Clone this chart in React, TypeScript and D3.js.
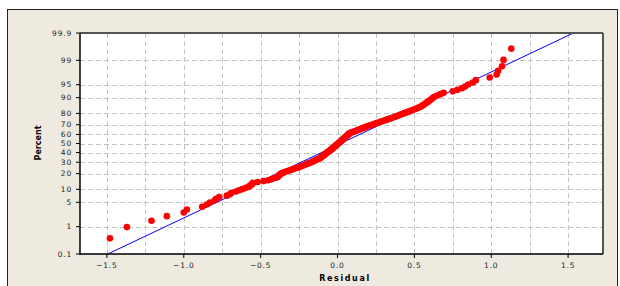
import React from "react";
import * as d3 from "d3";

// sorted residuals, one per point
const residuals = [
  -1.48, -1.37, -1.21, -1.11, -1.0, -0.98, -0.88, -0.85, -0.83, -0.8,
  -0.79, -0.77, -0.72, -0.7, -0.69, -0.66, -0.64, -0.62, -0.6, -0.58,
  -0.57, -0.56, -0.555, -0.55, -0.52, -0.48, -0.45, -0.43, -0.42, -0.4,
  -0.39, -0.385, -0.38, -0.375, -0.37, -0.36, -0.35, -0.34, -0.325, -0.31,
  -0.3, -0.29, -0.275, -0.26, -0.25, -0.24, -0.23, -0.22, -0.21, -0.2,
  -0.19, -0.18, -0.17, -0.16, -0.155, -0.148, -0.14, -0.132, -0.123, -0.114,
  -0.11, -0.105, -0.1, -0.096, -0.092, -0.087, -0.083, -0.078, -0.074, -0.07,
  -0.065, -0.061, -0.056, -0.052, -0.048, -0.043, -0.039, -0.034, -0.03, -0.026,
  -0.022, -0.019, -0.015, -0.011, -0.007, -0.003, 0.0, 0.004, 0.008, 0.012,
  0.016, 0.02, 0.023, 0.027, 0.031, 0.035, 0.039, 0.042, 0.046, 0.05,
  0.054, 0.058, 0.061, 0.065, 0.069, 0.073, 0.076, 0.08, 0.089, 0.098,
  0.108, 0.117, 0.126, 0.135, 0.144, 0.153, 0.163, 0.172, 0.181, 0.19,
  0.2, 0.21, 0.225, 0.235, 0.245, 0.255, 0.27, 0.28, 0.292, 0.304,
  0.316, 0.328, 0.34, 0.352, 0.364, 0.376, 0.388, 0.4, 0.41, 0.423,
  0.436, 0.449, 0.462, 0.475, 0.488, 0.501, 0.514, 0.527, 0.54, 0.549,
  0.558, 0.567, 0.576, 0.585, 0.594, 0.603, 0.612, 0.621, 0.63, 0.65,
  0.67, 0.69, 0.75, 0.78, 0.81, 0.83, 0.85, 0.88, 0.9, 0.99,
  1.035, 1.045, 1.07, 1.08, 1.13,
];

const percentTicks = [0.1, 1, 5, 10, 20, 30, 40, 50, 60, 70, 80, 90, 95, 99, 99.9];
const residualTicks = [-1.5, -1.0, -0.5, 0.0, 0.5, 1.0, 1.5];
const residualGrid = [-1.5, -1.25, -1.0, -0.75, -0.5, -0.25, 0, 0.25, 0.5, 0.75, 1.0, 1.25, 1.5];

// fitted normal line
const fitMean = 0.02;
const fitSd = 0.49;

// inverse normal cdf (Acklam)
function probit(p: number) {
  const a = [-39.69683028665376, 220.9460984245205, -275.9285104469687, 138.357751867269, -30.66479806614716, 2.506628277459239];
  const b = [-54.47609879822406, 161.5858368580409, -155.6989798598866, 66.80131188771972, -13.28068155288572];
  const c = [-0.007784894002430293, -0.3223964580411365, -2.400758277161838, -2.549732539343734, 4.374664141464968, 2.938163982698783];
  const d = [0.007784695709041462, 0.3224671290700398, 2.445134137142996, 3.754408661907416];
  const pl = 0.02425;
  if (p < pl) {
    const q = Math.sqrt(-2 * Math.log(p));
    return (((((c[0] * q + c[1]) * q + c[2]) * q + c[3]) * q + c[4]) * q + c[5]) / ((((d[0] * q + d[1]) * q + d[2]) * q + d[3]) * q + 1);
  }
  if (p > 1 - pl) {
    const q = Math.sqrt(-2 * Math.log(1 - p));
    return -(((((c[0] * q + c[1]) * q + c[2]) * q + c[3]) * q + c[4]) * q + c[5]) / ((((d[0] * q + d[1]) * q + d[2]) * q + d[3]) * q + 1);
  }
  const q = p - 0.5;
  const r = q * q;
  return (((((a[0] * r + a[1]) * r + a[2]) * r + a[3]) * r + a[4]) * r + a[5]) * q / (((((b[0] * r + b[1]) * r + b[2]) * r + b[3]) * r + b[4]) * r + 1);
}

const W = 620, H = 286;
const left = 80, right = 603, top = 33, bottom = 254;

export default function App() {
  const x = d3.scaleLinear().domain([-1.675, 1.727]).range([left, right]);
  const zMax = probit(0.999);
  const y = d3.scaleLinear().domain([-zMax, zMax]).range([bottom, top]);
  const n = residuals.length;
  // plotting positions (i - 0.3) / (n + 0.4)
  const pts = residuals.map((r, i) => ({ r, z: probit((i + 1 - 0.3) / (n + 0.4)) }));
  const line = d3.line<number>().x(z => x(fitMean + fitSd * z)).y(z => y(z));
  const fmtX = d3.format(".1f");
  const labelStyle = { fontFamily: "DejaVu Sans, sans-serif", fontSize: 7.5, fill: "#222", letterSpacing: 0.8 };

  return (
    <svg width={W} height={H} style={{ position: "absolute", left: 0, top: 0 }}>
      <rect x={0} y={0} width={W} height={H} fill="#fff" />
      <rect x={7.5} y={9.5} width={610} height={290} fill="#eeeae0" stroke="#222" strokeWidth={1} />
      <rect x={left} y={top} width={right - left} height={bottom - top} fill="#fff" />
      <defs>
        <clipPath id="plotclip">
          <rect x={left} y={top} width={right - left} height={bottom - top} />
        </clipPath>
      </defs>
      <g stroke="#c4c4c4" strokeWidth={1} strokeDasharray="5,3">
        {residualGrid.map(v => (
          <line key={"gx" + v} x1={Math.round(x(v)) + 0.5} x2={Math.round(x(v)) + 0.5} y1={top} y2={bottom} />
        ))}
        {percentTicks.map(p => (
          <line key={"gy" + p} x1={left} x2={right} y1={Math.round(y(probit(p / 100))) + 0.5} y2={Math.round(y(probit(p / 100))) + 0.5} />
        ))}
      </g>
      <g clipPath="url(#plotclip)">
        <path d={line([-zMax, zMax]) ?? ""} fill="none" stroke="#0000ff" strokeWidth={1} />
        {pts.map((d, i) => (
          <circle key={i} cx={x(d.r)} cy={y(d.z)} r={3.3} fill="#ff0000" />
        ))}
      </g>
      <line x1={left} x2={right} y1={top} y2={top} stroke="#555" strokeWidth={2} />
      <line x1={right} x2={right} y1={top} y2={bottom} stroke="#555" strokeWidth={2} />
      <line x1={left} x2={left} y1={top} y2={bottom + 1} stroke="#000" strokeWidth={1.5} />
      <line x1={left} x2={right} y1={bottom} y2={bottom} stroke="#000" strokeWidth={1.5} />
      {percentTicks.map(p => {
        const yy = y(probit(p / 100));
        return (
          <g key={"ty" + p}>
            <line x1={left - 4} x2={left} y1={yy} y2={yy} stroke="#000" />
            <text x={left - 8} y={yy} dy="0.35em" textAnchor="end" {...labelStyle}>{String(p)}</text>
          </g>
        );
      })}
      {residualTicks.map(v => (
        <g key={"tx" + v}>
          <line x1={x(v)} x2={x(v)} y1={bottom} y2={bottom + 4} stroke="#000" />
          <text x={x(v)} y={bottom + 14} textAnchor="middle" {...labelStyle}>{fmtX(v)}</text>
        </g>
      ))}
      <text x={345} y={281} textAnchor="middle" fontFamily="DejaVu Sans, sans-serif" fontSize={8} fontWeight="bold" letterSpacing={1.6} fill="#000">Residual</text>
      <text transform="translate(41,143) rotate(-90)" textAnchor="middle" fontFamily="DejaVu Sans, sans-serif" fontSize={8} fontWeight="bold" fill="#000">Percent</text>
    </svg>
  );
}
